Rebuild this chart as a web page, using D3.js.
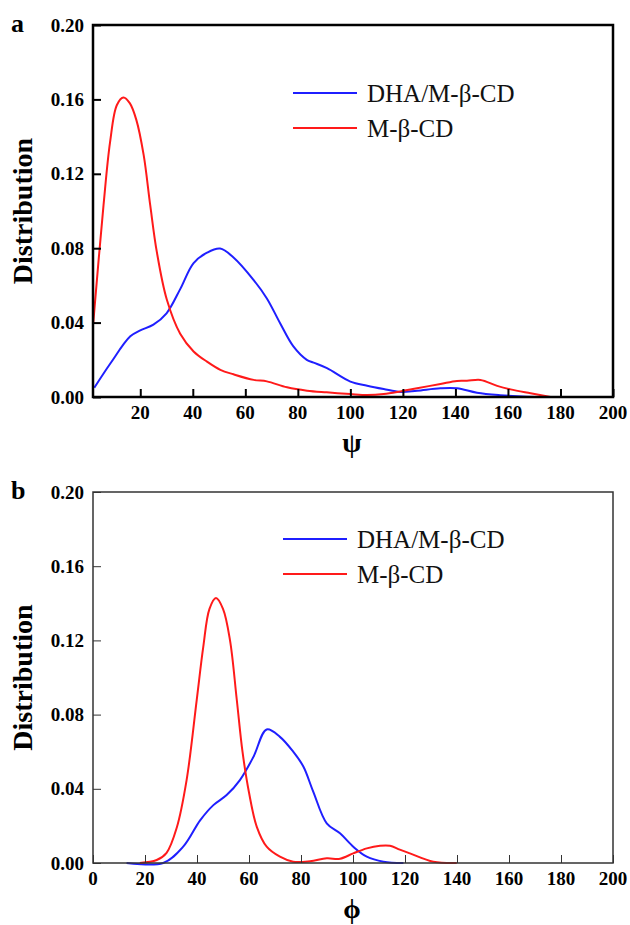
<!DOCTYPE html>
<html>
<head>
<meta charset="utf-8">
<script src="https://cdn.jsdelivr.net/npm/d3@7"></script>
<style>
  body { margin: 0; background: #fff; }
  svg { display: block; font-family: "Liberation Serif", "Times New Roman", serif; }
</style>
</head>
<body>
<div id="chart"></div>
<script>
// values: [angle, distribution]
const psiComplex = [[2.5,0.005],[8.6,0.018],[16.2,0.0326],[20,0.0358],[25,0.0389],[30,0.045],[35.2,0.058],[40.3,0.072],[45.4,0.0776],[50.4,0.0798],[55.5,0.075],[63.1,0.063],[68.2,0.053],[73.2,0.0398],[78.3,0.0272],[83.4,0.02],[86,0.0185],[91.1,0.0155],[100,0.0083],[106.4,0.0061],[112.7,0.0043],[119,0.0027],[125.4,0.0034],[134.3,0.0047],[140.6,0.0047],[148.2,0.0023],[157,0.001],[167.3,0.0002],[175,0]];
const psiHost = [[2.1,0.04],[6,0.103],[8.5,0.137],[11.1,0.157],[13.6,0.161],[16,0.158],[18.5,0.149],[21.3,0.13],[23.8,0.103],[26.3,0.078],[30.1,0.0524],[35.2,0.034],[40.3,0.0245],[45.4,0.019],[50.5,0.0146],[55.5,0.0122],[63.2,0.0092],[68.2,0.0084],[75.9,0.0052],[83.5,0.0034],[91,0.0025],[100,0.0016],[106.4,0.0011],[112.7,0.0016],[119,0.003],[125.4,0.0047],[134.3,0.007],[140.6,0.0086],[144.4,0.0087],[149.5,0.0092],[155.9,0.006],[161,0.0041],[168.6,0.002],[176.2,0]];
const phiComplex = [[12.9,0],[27,0],[34.7,0.0088],[41.2,0.023],[46.3,0.0312],[51.4,0.0366],[56.5,0.0447],[61.7,0.0572],[66.8,0.072],[71.9,0.068],[77,0.06],[80.9,0.052],[84.7,0.0385],[89.9,0.0214],[95,0.016],[100.1,0.0088],[105.3,0.0034],[111.7,0.0007],[119.4,0]];
const phiHost = [[18,0],[24.5,0.0016],[28.3,0.0055],[32.2,0.019],[36,0.0447],[39.9,0.088],[42.4,0.1164],[44.8,0.137],[47.3,0.1428],[50,0.137],[52.7,0.12],[55.3,0.088],[57.5,0.06],[60,0.038],[63,0.0195],[66.8,0.0088],[71.9,0.0034],[77,0.0007],[83.5,0.001],[89.9,0.0025],[95,0.0023],[100.1,0.0052],[105.3,0.0079],[110.4,0.0093],[114.2,0.0093],[118,0.0072],[121.9,0.0052],[130.9,0.0007],[139.9,0]];

const seriesNames = ["DHA/M-\u03b2-CD", "M-\u03b2-CD"];
const yTicks = [0, 0.04, 0.08, 0.12, 0.16, 0.20];
const xTicksTop = [20, 40, 60, 80, 100, 120, 140, 160, 180, 200];
const xTicksBottom = [0, 20, 40, 60, 80, 100, 120, 140, 160, 180, 200];

const W = 630, H = 925;
const svg = d3.select("#chart").append("svg").attr("width", W).attr("height", H);

const panels = [
  { tag: "a", axisLabel: "\u03c8", xMin: 2, top: 25, bottom: 397, ticks: xTicksTop,
    frameW: 2.5, frameC: "#000", series: [psiComplex, psiHost], legendY: 93, legendX: 293 },
  { tag: "b", axisLabel: "\u03d5", xMin: 0, top: 492, bottom: 863, ticks: xTicksBottom,
    frameW: 1.5, frameC: "#333", series: [phiComplex, phiHost], legendY: 539, legendX: 283 }
];
const colors = ["#1f1fff", "#ff1a1a"];
const left = 93, right = 613;

panels.forEach(p => {
  const x = d3.scaleLinear().domain([p.xMin, 200]).range([left, right]);
  const y = d3.scaleLinear().domain([0, 0.2]).range([p.bottom, p.top]);
  const g = svg.append("g");

  // curves
  const line = d3.line().x(d => x(d[0])).y(d => Math.min(p.bottom, y(d[1])))
    .curve(d3.curveCatmullRom.alpha(0.5));
  p.series.forEach((s, i) => {
    g.append("path").datum(s).attr("d", line)
      .attr("fill", "none").attr("stroke", colors[i]).attr("stroke-width", 2);
  });

  // axes, ticks inward
  const xAxis = d3.axisTop(x).tickValues(p.ticks).tickSize(8).tickFormat("");
  g.append("g").attr("transform", `translate(0,${p.bottom})`).call(xAxis)
    .call(a => a.select(".domain").remove())
    .selectAll("line").attr("stroke", p.frameC).attr("stroke-width", p.frameW - 0.5);
  const yAxis = d3.axisRight(y).tickValues(yTicks).tickSize(8).tickFormat("");
  g.append("g").attr("transform", `translate(${left},0)`).call(yAxis)
    .call(a => a.select(".domain").remove())
    .selectAll("line").attr("stroke", p.frameC).attr("stroke-width", p.frameW - 0.5);

  g.append("rect").attr("x", left).attr("y", p.top)
    .attr("width", right - left).attr("height", p.bottom - p.top)
    .attr("fill", "none").attr("stroke", p.frameC).attr("stroke-width", p.frameW);

  // tick labels
  g.selectAll(".xl").data(p.ticks).enter().append("text")
    .attr("x", d => x(d)).attr("y", p.bottom + 22)
    .attr("text-anchor", "middle").attr("font-weight", "bold").attr("font-size", 19)
    .text(d => d);
  g.selectAll(".yl").data(yTicks).enter().append("text")
    .attr("x", 84).attr("y", d => y(d) + 6.5)
    .attr("text-anchor", "end").attr("font-weight", "bold").attr("font-size", 19)
    .text(d => d3.format(".2f")(d));

  // axis titles
  g.append("text").attr("transform", `translate(32,${(p.top + p.bottom) / 2}) rotate(-90)`)
    .attr("text-anchor", "middle").attr("font-weight", "bold").attr("font-size", 28)
    .text("Distribution");
  g.append("text").attr("x", 352).attr("y", p.bottom + 55)
    .attr("text-anchor", "middle").attr("font-weight", "bold").attr("font-size", 28)
    .text(p.axisLabel);
  g.append("text").attr("x", 11).attr("y", p.top + 7)
    .attr("font-weight", "bold").attr("font-size", 26).text(p.tag);

  // legend
  seriesNames.forEach((n, i) => {
    const ly = p.legendY + i * 35;
    g.append("line").attr("x1", p.legendX).attr("x2", p.legendX + 64)
      .attr("y1", ly).attr("y2", ly).attr("stroke", colors[i]).attr("stroke-width", 2);
    g.append("text").attr("x", p.legendX + 74).attr("y", ly + 9)
      .attr("font-size", 25).attr("fill", "#111").text(n);
  });
});
</script>
</body>
</html>
